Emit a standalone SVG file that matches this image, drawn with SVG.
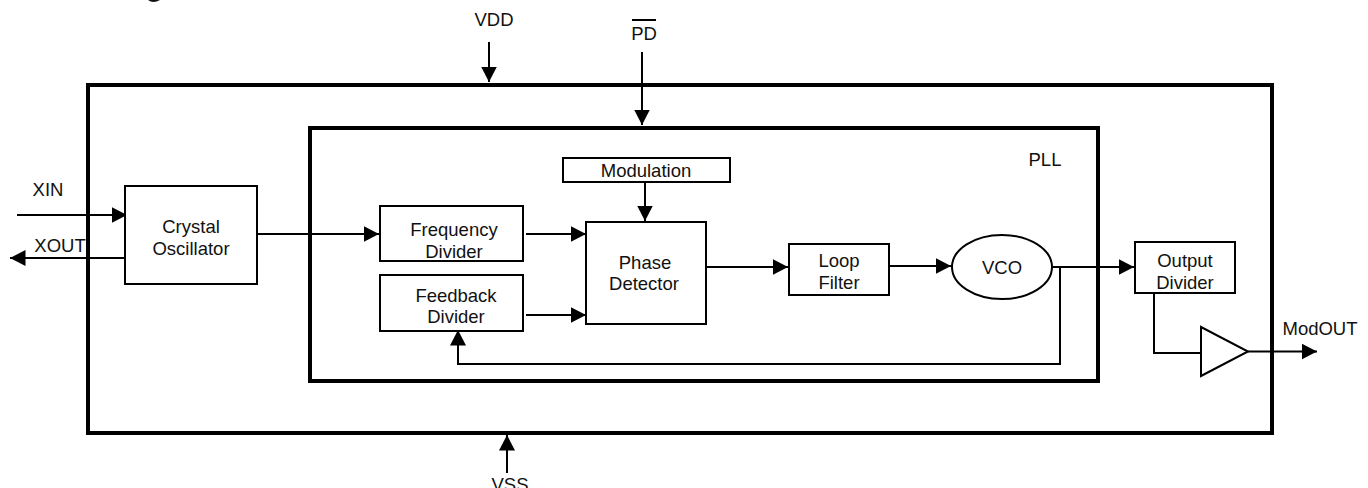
<svg xmlns="http://www.w3.org/2000/svg" width="1368" height="488" viewBox="0 0 1368 488">
<style>
text{font-family:"Liberation Sans",Arial,sans-serif;font-size:18.5px;fill:#111;text-anchor:middle}
.b{fill:#fff;stroke:#000;stroke-width:2}
.f{fill:none;stroke:#000;stroke-width:4}
.c{fill:none;stroke:#000;stroke-width:2}
.a{fill:#000;stroke:none}
</style>
<defs><marker id="ah" markerUnits="userSpaceOnUse" markerWidth="16" markerHeight="16" refX="15.5" refY="8" orient="auto"><path d="M0,0L15.5,8L0,16Z" class="a"/></marker></defs>
<path d="M148,0Q153,4 160,0Z" fill="#111"/>
<g id="chip"><rect class="f" x="88" y="85" width="1184" height="348"/></g>
<g id="pll"><rect class="f" x="310" y="128" width="788" height="253"/><text x="1045" y="166">PLL</text></g>
<g id="connectors">
<path class="c" d="M17,215H127" marker-end="url(#ah)"/>
<path class="c" d="M125,258H10" marker-end="url(#ah)"/>
<path class="c" d="M257,234H379" marker-end="url(#ah)"/>
<path class="c" d="M526,234H586" marker-end="url(#ah)"/>
<path class="c" d="M526,315H586" marker-end="url(#ah)"/>
<path class="c" d="M645,182V221" marker-end="url(#ah)"/>
<path class="c" d="M706,267H788" marker-end="url(#ah)"/>
<path class="c" d="M889,266H951" marker-end="url(#ah)"/>
<path class="c" d="M1052,267H1134" marker-end="url(#ah)"/>
<path class="c" d="M1060,267V364H458V330" marker-end="url(#ah)"/>
<path class="c" d="M1154,293V353H1201"/>
<path class="c" d="M1248,351.500H1317" marker-end="url(#ah)"/>
<path class="c" d="M489,42V82" marker-end="url(#ah)"/>
<path class="c" d="M642,52V125" marker-end="url(#ah)"/>
<path class="c" d="M507,473V435" marker-end="url(#ah)"/>
</g>
<g id="crystal"><rect class="b" x="125" y="186" width="132" height="98"/><text x="191" y="233">Crystal</text><text x="191" y="255">Oscillator</text></g>
<g id="freq"><rect class="b" x="380" y="206" width="143" height="55"/><text x="454" y="236">Frequency</text><text x="454" y="258">Divider</text></g>
<g id="fb"><rect class="b" x="380" y="275" width="143" height="56"/><text x="456" y="302">Feedback</text><text x="456" y="323">Divider</text></g>
<g id="mod"><rect class="b" x="563" y="158" width="167" height="24"/><text x="646" y="177">Modulation</text></g>
<g id="phase"><rect class="b" x="586" y="222" width="120" height="102"/><text x="645" y="269">Phase</text><text x="644" y="290">Detector</text></g>
<g id="loop"><rect class="b" x="789" y="244" width="100" height="51"/><text x="839" y="267">Loop</text><text x="839" y="289">Filter</text></g>
<g id="vco"><ellipse class="b" cx="1002" cy="267" rx="50" ry="32"/><text x="1002" y="274">VCO</text></g>
<g id="outdiv"><rect class="b" x="1135" y="242" width="100" height="51"/><text x="1185" y="267">Output</text><text x="1185" y="289">Divider</text></g>
<g id="buffer"><path class="b" d="M1201,327L1248,351.500L1201,376Z"/></g>
<g id="labels">
<text x="48" y="196">XIN</text>
<text x="60" y="252">XOUT</text>
<text x="494" y="26">VDD</text>
<text x="644" y="40">PD</text><path class="c" d="M632,20H656"/>
<text x="510" y="491">VSS</text>
<text x="1320" y="335">ModOUT</text>
</g>
</svg>
